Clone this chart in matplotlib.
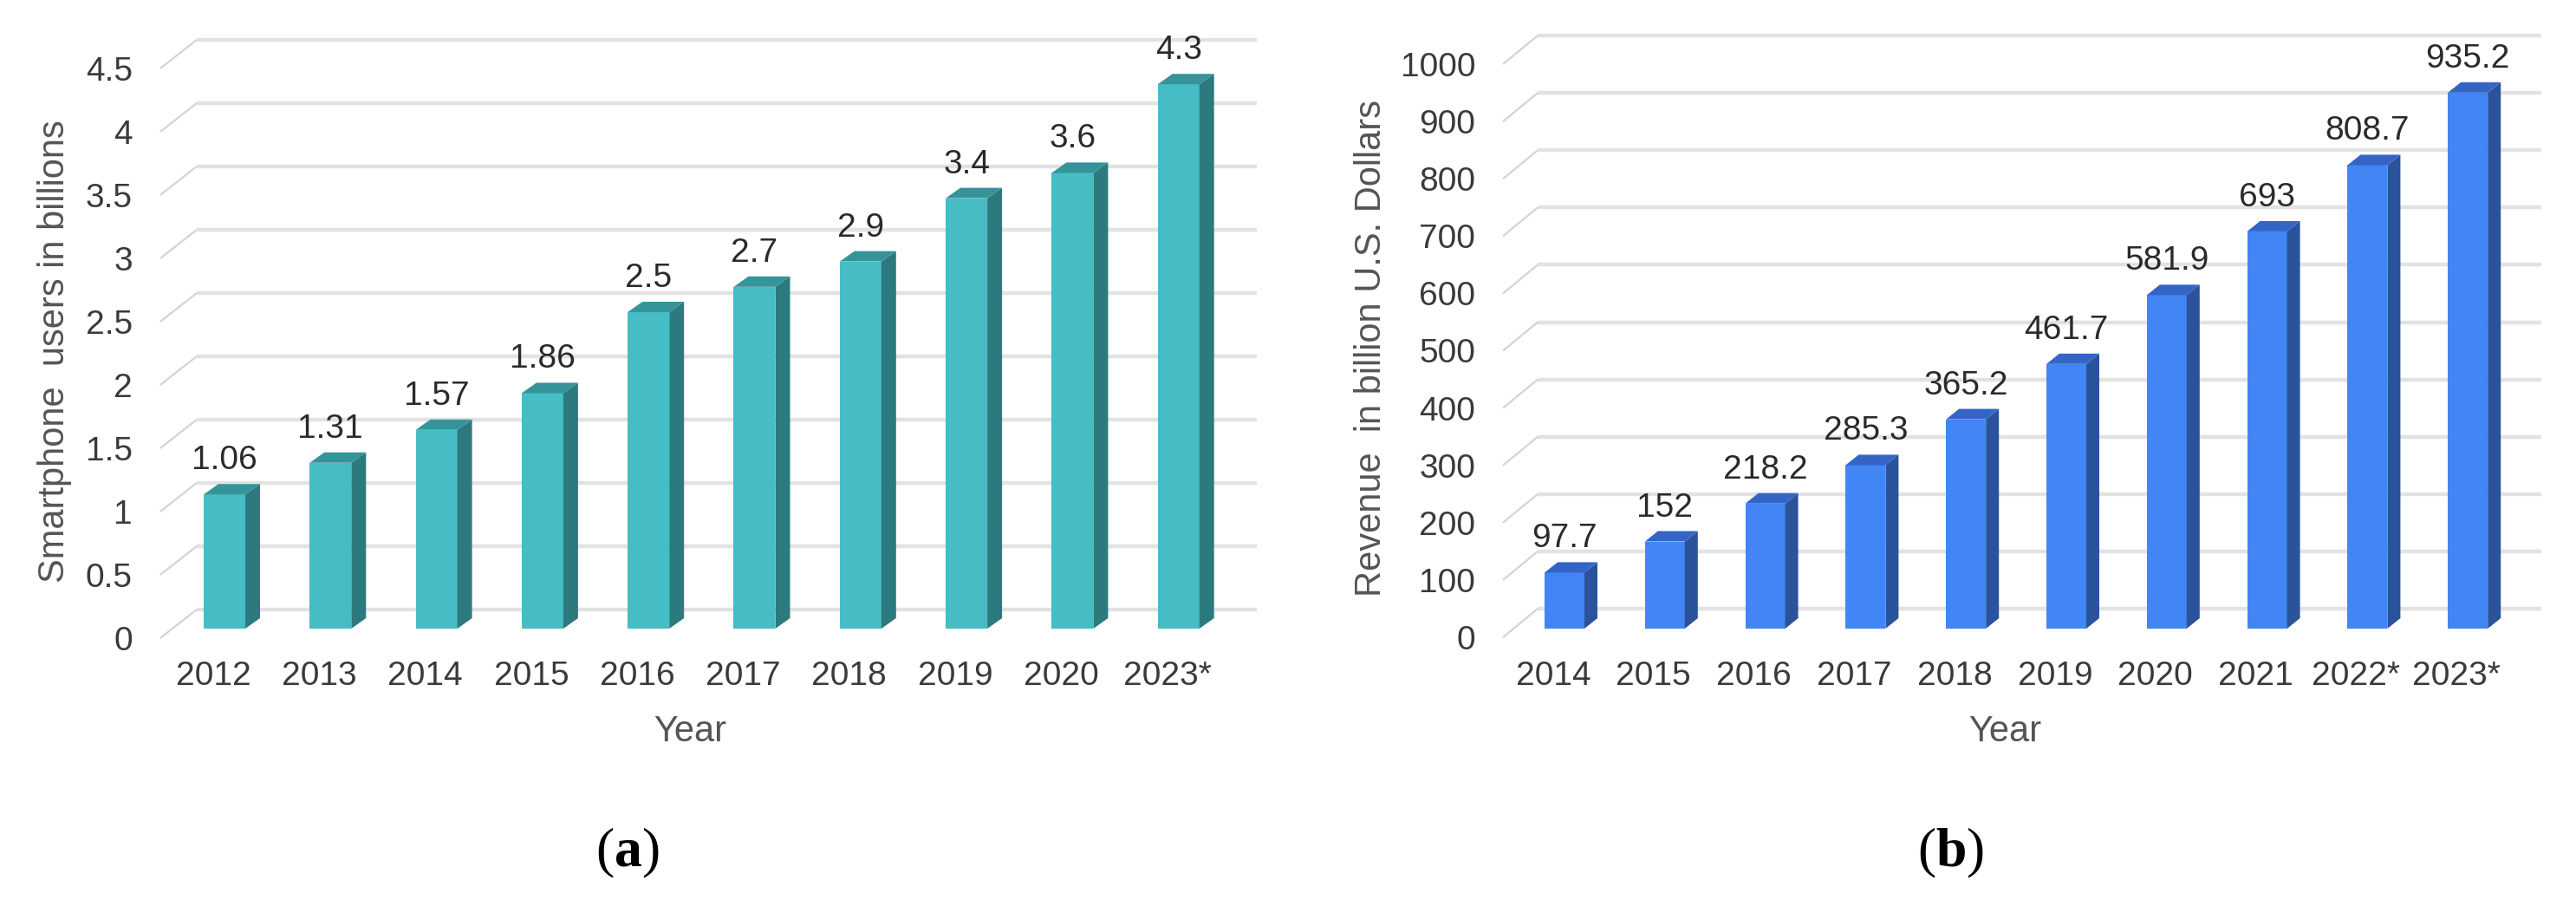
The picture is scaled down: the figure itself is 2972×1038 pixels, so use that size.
import matplotlib
matplotlib.use('Agg')
import matplotlib.pyplot as plt
from matplotlib.patches import Polygon

# ---------------- data ----------------
years_a = ['2012', '2013', '2014', '2015', '2016', '2017', '2018', '2019', '2020', '2023*']
users_a = [1.06, 1.31, 1.57, 1.86, 2.5, 2.7, 2.9, 3.4, 3.6, 4.3]
value_labels_a = ['1.06', '1.31', '1.57', '1.86', '2.5', '2.7', '2.9', '3.4', '3.6', '4.3']
yticks_a = [0, 0.5, 1, 1.5, 2, 2.5, 3, 3.5, 4, 4.5]
ytick_labels_a = ['0', '0.5', '1', '1.5', '2', '2.5', '3', '3.5', '4', '4.5']

years_b = ['2014', '2015', '2016', '2017', '2018', '2019', '2020', '2021', '2022*', '2023*']
revenue_b = [97.7, 152, 218.2, 285.3, 365.2, 461.7, 581.9, 693, 808.7, 935.2]
value_labels_b = ['97.7', '152', '218.2', '285.3', '365.2', '461.7', '581.9', '693', '808.7', '935.2']
yticks_b = [0, 100, 200, 300, 400, 500, 600, 700, 800, 900, 1000]
ytick_labels_b = ['0', '100', '200', '300', '400', '500', '600', '700', '800', '900', '1000']

# ---------------- style / layout ----------------
W, H = 2972, 1038
plt.rcParams['font.family'] = ['Liberation Sans', 'DejaVu Sans']
plt.rcParams['mathtext.fontset'] = 'custom'
plt.rcParams['mathtext.rm'] = 'Liberation Serif'
plt.rcParams['mathtext.bf'] = 'Liberation Serif:bold'

TICK = '#3a3a3a'
VAL = '#2a2a2a'
TITLE = '#555555'
GRID = '#e2e2e2'
DIAG = '#d4d4d4'

spec_a = dict(x0=259, ppc=122.3, y0=725, ppu=146.0, back=(29, 22), front=(-13, -11),
              side=(17, 12), width=48)
spec_b = dict(x0=1805, ppc=115.8, y0=725, ppu=0.661, back=(27, 23), front=(-13, -10),
              side=(15, 12), width=46)

colors_a = dict(front='#46bcc5', side='#2c7a7e', top='#35949a')
colors_b = dict(front='#4285f4', side='#2a539c', top='#3465c6')


def panel(ax, cats, vals, vlabels, ticks, tlabels, spec, col):
    x0, ppc, y0, ppu = spec['x0'], spec['ppc'], spec['y0'], spec['ppu']
    ax.set_xlim(-x0 / ppc, (W - x0) / ppc)
    ax.set_ylim((y0 - H) / ppu, y0 / ppu)
    ax.axis('off')
    ax.patch.set_alpha(0)

    def px(p):
        return p / ppc

    def pv(p):
        return p / ppu

    bdx, bdy = px(spec['back'][0]), pv(spec['back'][1])
    fdx, fdy = px(spec['front'][0]), pv(spec['front'][1])
    n = len(cats)
    left, right = -0.5, n - 0.5

    for t, tl in zip(ticks, tlabels):
        ax.plot([left + bdx, right + bdx], [t + bdy, t + bdy], color=GRID, lw=3.2,
                solid_capstyle='butt', zorder=1)
        ax.plot([left + fdx, left + bdx], [t + fdy, t + bdy], color=DIAG, lw=1.6,
                solid_capstyle='butt', zorder=1)
        ax.text(left + fdx - px(32), t + fdy - pv(14), tl, ha='right', va='baseline',
                fontsize=28, color=TICK)

    w = spec['width'] / ppc
    sdx, sdy = px(spec['side'][0]), pv(spec['side'][1])
    xs = list(range(n))
    ax.bar(xs, vals, width=w, color=col['front'], linewidth=0, zorder=3)
    for i, v, lbl in zip(xs, vals, vlabels):
        xl, xr = i - w / 2, i + w / 2
        ax.add_patch(Polygon([(xr, 0), (xr + sdx, sdy), (xr + sdx, v + sdy), (xr, v)],
                             closed=True, facecolor=col['side'], edgecolor='none', zorder=3))
        ax.add_patch(Polygon([(xl, v), (xr, v), (xr + sdx, v + sdy), (xl + sdx, v + sdy)],
                             closed=True, facecolor=col['top'], edgecolor='none', zorder=3))
        ax.annotate(lbl, xy=(i, v), xytext=(0, 29 * 0.72), textcoords='offset points',
                    ha='center', va='baseline', fontsize=28, color=VAL, zorder=4)
        ax.text(i + fdx, -pv(65), cats[i], ha='center', va='baseline', fontsize=28, color=TICK)
    ax.text((n - 1) / 2 + fdx, -pv(130), 'Year', ha='center', va='baseline',
            fontsize=30, color=TITLE)


fig = plt.figure(figsize=(W / 100, H / 100), dpi=100)
fig.patch.set_facecolor('white')
ax_a = fig.add_axes([0, 0, 1, 1])
ax_b = fig.add_axes([0, 0, 1, 1])
panel(ax_a, years_a, users_a, value_labels_a, yticks_a, ytick_labels_a, spec_a, colors_a)
panel(ax_b, years_b, revenue_b, value_labels_b, yticks_b, ytick_labels_b, spec_b, colors_b)


def ftext(xp, yp, s, **kw):
    fig.text(xp / W, 1 - yp / H, s, **kw)


ftext(63, 405, 'Smartphone  users in billions', rotation=90, ha='center', va='center',
      fontsize=30, color=TITLE)
ftext(1582, 402, 'Revenue  in billion U.S. Dollars', rotation=90, ha='center', va='center',
      fontsize=30, color=TITLE)
ftext(724, 984, r'$(\mathbf{a})$', ha='center', va='center', fontsize=46, color='black')
ftext(2251, 984, r'$(\mathbf{b})$', ha='center', va='center', fontsize=46, color='black')

fig.savefig('out.png', dpi=100, facecolor='white')
